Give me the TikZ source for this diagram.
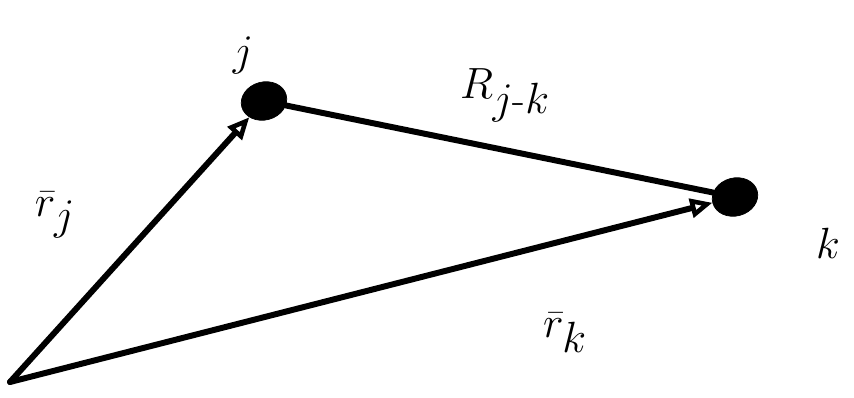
\documentclass[tikz,border=0pt]{standalone}
\usepackage{amsmath,amssymb}
\usetikzlibrary{shapes.geometric, arrows.meta, positioning}

\begin{document}
\begin{tikzpicture}[
    x=0.02cm, y=-0.02cm,
    dot/.style={ellipse, fill=black, draw=black, minimum width=0.92cm, minimum height=0.76cm, inner sep=0pt, rotate=15},
    vec/.style={-{Triangle[open, length=0.44cm, width=0.38cm, line width=2.6pt]}, line width=3.4pt, line cap=round},
    link/.style={line width=3.4pt, line cap=round},
    lbl/.style={font=\fontsize{34}{38}\selectfont, inner sep=0pt}
]
    \useasboundingbox (0,0) rectangle (854,398);

    % Puntos
    \coordinate (o) at (10,382);
    \node[dot] (j) at (264,101) {};
    \node[dot] (k) at (735,197) {};

    % Etiquetas
    \node[lbl] (jlab) at (243,55) {$j$};
    \node[lbl] (klab) at (828,243) {$k$};
    \node[lbl] (rjk) at (505,95) {$R_{j\text{-}k}$};
    \node[lbl] (rj) at (55,215) {$\bar{r}_j$};
    \node[lbl] (rk) at (565,333) {$\bar{r}_k$};

    % Vectores
    \draw[vec] (o) -- (j);
    \draw[vec] (o) -- (k);
    \draw[link] (j) -- (k);

\end{tikzpicture}
\end{document}
